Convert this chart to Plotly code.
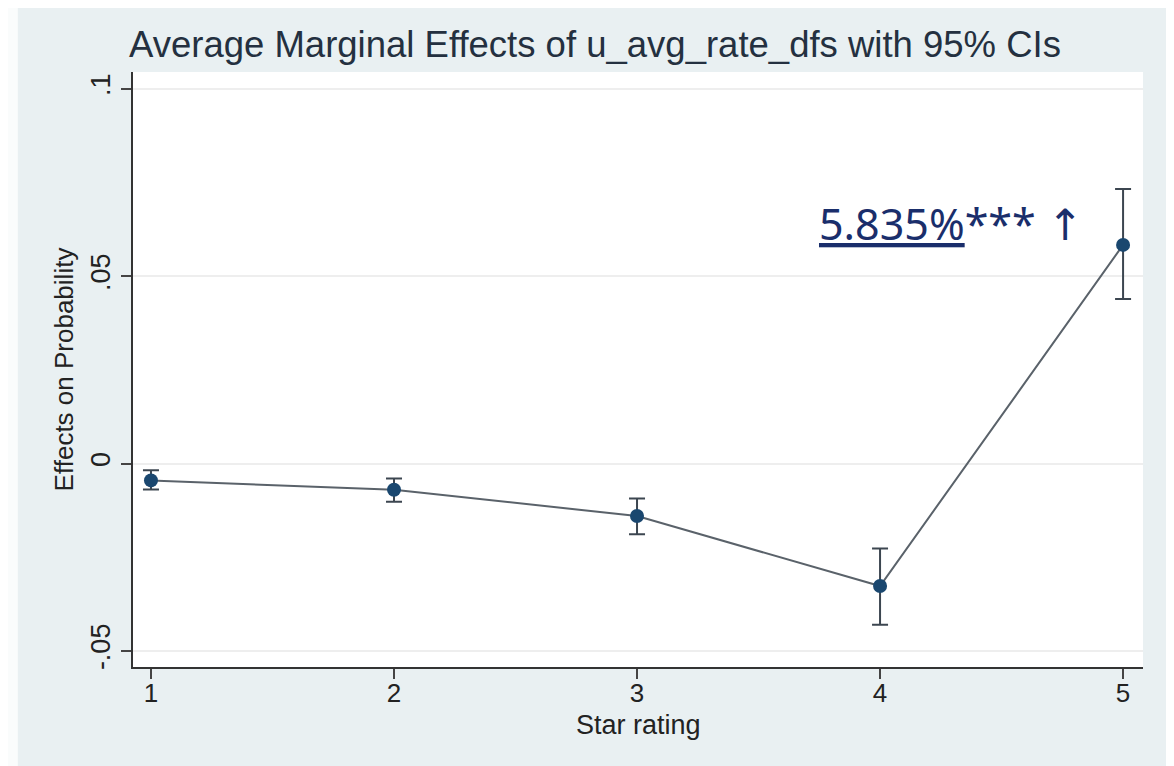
import plotly.graph_objects as go

star = [1, 2, 3, 4, 5]
effect = [-0.0045, -0.0070, -0.0140, -0.0327, 0.05835]
ci_low = [-0.0069, -0.0102, -0.0189, -0.0430, 0.0439]
ci_high = [-0.0018, -0.0040, -0.0093, -0.0227, 0.0733]

y_ticks = [-0.05, 0, 0.05, 0.1]
y_tick_labels = ["-.05", "0", ".05", ".1"]
x_ticks = [1, 2, 3, 4, 5]

err_plus = [h - e for h, e in zip(ci_high, effect)]
err_minus = [e - l for e, l in zip(effect, ci_low)]

fig = go.Figure()
fig.add_trace(go.Scatter(
    x=star, y=effect, mode="lines+markers",
    line=dict(color="#5a626a", width=2),
    marker=dict(color="#1a476f", size=14),
    error_y=dict(type="data", symmetric=False, array=err_plus, arrayminus=err_minus,
                 color="#3c4650", thickness=2, width=8),
    showlegend=False,
))

fig.add_annotation(
    x=4.29, y=effect[4], xref="x", yref="y", xanchor="center", yanchor="bottom",
    text="<u>5.835%</u>*** <span style='font-family:DejaVu Sans'>\u2191</span>", showarrow=False,
    font=dict(family="Noto Sans", size=43, color="#1a2e6b"), yshift=-10,
)

fig.add_annotation(
    x=0.5, y=0, xref="paper", yref="paper", xanchor="center", yanchor="middle",
    text="Star rating", showarrow=False, yshift=-58,
    font=dict(family="Liberation Sans", size=27, color="#222222"),
)

fig.add_shape(type="rect", xref="paper", yref="paper", x0=-0.2, x1=-0.114, y0=-1, y1=2,
              fillcolor="#fafcfc", line=dict(width=0), layer="below")

fig.update_layout(
    width=1174, height=766,
    paper_bgcolor="#e9f0f2", plot_bgcolor="white",
    margin=dict(l=125, r=39, t=64, b=107),
    title=dict(text="Average Marginal Effects of u_avg_rate_dfs with 95% CIs",
               x=0.5, xanchor="center", y=0.953, yanchor="middle",
               font=dict(family="Liberation Sans", size=36.5, color="#243040")),
    font=dict(family="Liberation Sans", color="#222222"),
)
fig.update_xaxes(
    range=[0.926, 5.082], tickvals=x_ticks, ticktext=[str(v) for v in x_ticks],
    showgrid=False, zeroline=False, showline=True, linecolor="#333333", linewidth=2,
    ticks="outside", ticklen=10, tickwidth=2, tickcolor="#444444",
    tickfont=dict(size=26, color="#222222"), automargin=False, ticklabelstandoff=-8,
)
fig.update_yaxes(
    range=[-0.0543, 0.1045], tickvals=y_ticks, ticktext=y_tick_labels, tickangle=-90,
    showgrid=True, gridcolor="#eeeeee", gridwidth=2, zeroline=False,
    showline=True, linecolor="#333333", linewidth=2,
    ticks="outside", ticklen=10, tickwidth=2, tickcolor="#444444",
    tickfont=dict(size=27, color="#222222"), automargin=False,
    title=dict(text="Effects on Probability", font=dict(size=26, color="#222222"), standoff=5),
)

fig.write_html("out.html")
